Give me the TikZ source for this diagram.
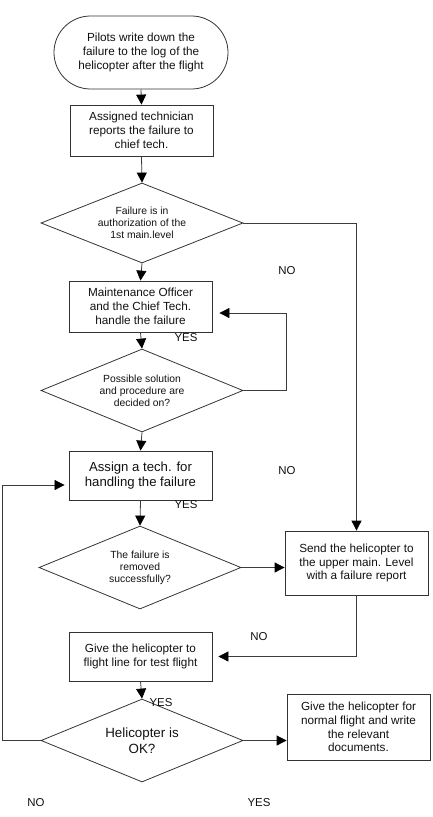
\documentclass[tikz,border=0pt]{standalone}
\usepackage{fontspec}
\setmainfont{Liberation Sans}
\usepackage{xcolor}
\usetikzlibrary{shapes.misc}
\usetikzlibrary{shapes.geometric}
\usetikzlibrary{arrows.meta}
\definecolor{lineColor}{HTML}{3C3C3C}
\definecolor{tipColor}{HTML}{000000}
\definecolor{borderColor}{HTML}{333333}
\definecolor{labelTextColor}{HTML}{111111}
\def\stepTextA{Pilots write down the\\failure to the log of the\\helicopter after the flight}
\def\stepTextB{Assigned technician\\reports the failure to\\chief tech.}
\def\stepTextC{Maintenance Officer\\and the Chief Tech.\\handle the failure}
\def\stepTextD{Assign a tech. for\\handling the failure}
\def\stepTextE{Send the helicopter to\\the upper main. Level\\with a failure report}
\def\stepTextF{Give the helicopter to\\flight line for test flight}
\def\stepTextG{Give the helicopter for\\normal flight and write\\the relevant\\documents.}
\def\askTextA{Failure is in\\authorization of the\\1st main.level}
\def\askTextB{Possible solution\\and procedure are\\decided on?}
\def\askTextC{The failure is\\removed\\successfully?}
\def\askTextD{Helicopter is\\OK?}
\tikzset{
  stepBox/.style={draw=borderColor, line width=0.8pt, rectangle, inner sep=2pt,
    minimum width=143bp, align=center, text=labelTextColor,
    font=\fontsize{11.8}{13.8}\selectfont},
  startBox/.style={stepBox, rounded rectangle, minimum width=178bp, minimum height=73bp},
  askBox/.style={draw=borderColor, line width=0.8pt, diamond, aspect=2.5, inner sep=0pt,
    minimum width=202bp, minimum height=82bp, align=center, text=labelTextColor,
    font=\fontsize{10.4}{12}\selectfont},
  link/.style={draw=lineColor, line width=0.8pt},
  linkArrow/.style={link, -{Triangle[length=10bp,width=10bp,color=tipColor]}},
  answer/.style={inner sep=0pt, text=labelTextColor, font=\fontsize{11.5}{13}\selectfont}
}

\begin{document}
\begin{tikzpicture}[x=1bp,y=-1bp]
\useasboundingbox (0, 0) rectangle (432, 817);

% node layer
\begin{scope}
\node[startBox] (pilots) at (141, 52.5) {\stepTextA};
\node[stepBox, minimum height=51bp] (report) at (141.5, 130.5) {\stepTextB};
\node[askBox, minimum height=80bp] (authorized) at (142, 223) {\askTextA};
\node[stepBox, minimum height=51bp] (handle) at (140.5, 306.5) {\stepTextC};
\node[askBox, minimum height=83bp] (decided) at (142, 390.5) {\askTextB};
\node[stepBox, minimum height=49bp, font=\fontsize{13.2}{15}\selectfont] (assign) at (140.5, 475.5) {\stepTextD};
\node[askBox, minimum height=83bp] (removed) at (140, 567.5) {\askTextC};
\node[stepBox, minimum height=64bp] (upper) at (356.5, 563) {\stepTextE};
\node[stepBox, minimum height=49bp] (testflight) at (140.5, 656.5) {\stepTextF};
\node[askBox, minimum height=83bp, font=\fontsize{13.4}{16}\selectfont] (heliok) at (142, 740.5) {\askTextD};
\node[stepBox, minimum height=66bp] (normal) at (358.5, 727) {\stepTextG};
\end{scope}

% bend points
\coordinate (loopRight) at (286, 313);
\coordinate (loopLeft) at (2, 740.5);
\coordinate (loopTop) at (2, 485);

% link layer
\begin{scope}
\draw[linkArrow] (pilots.south) -- (report.north);
\draw[linkArrow] (report.south) -- (authorized.north);
\draw[linkArrow] (authorized.east) -- (authorized.east -| upper.north) -- (upper.north);
\draw[linkArrow] (authorized.south) -- (handle.north);
\draw[linkArrow] (handle.south) -- (decided.north);
\draw[linkArrow, shorten >=7bp] (decided.east) -- (decided.east -| loopRight) -- (loopRight) -- (loopRight -| handle.east);
\draw[linkArrow] (decided.south) -- (assign.north);
\draw[linkArrow] (assign.south) -- (removed.north);
\draw[linkArrow] (removed.east) -- (removed.east -| upper.west);
\draw[linkArrow, shorten >=6bp] (upper.south) |- (testflight.east);
\draw[linkArrow] (testflight.south) -- (heliok.north);
\draw[linkArrow] (heliok.east) -- (heliok.east -| normal.west);
\draw[linkArrow, shorten >=4bp] (heliok.west) -- (loopLeft) -- (loopTop) -- (loopTop -| assign.west);
\end{scope}

% label layer
\begin{scope}
\node[answer] (noA) at (287, 271) {NO};
\node[answer] (yesA) at (186, 337.5) {YES};
\node[answer] (noB) at (287, 470.5) {NO};
\node[answer] (yesB) at (186, 504.5) {YES};
\node[answer] (noC) at (259, 637) {NO};
\node[answer] (yesC) at (161, 703) {YES};
\node[answer] (noD) at (36, 802.5) {NO};
\node[answer] (yesD) at (259, 802.5) {YES};
\end{scope}

\end{tikzpicture}
\end{document}
